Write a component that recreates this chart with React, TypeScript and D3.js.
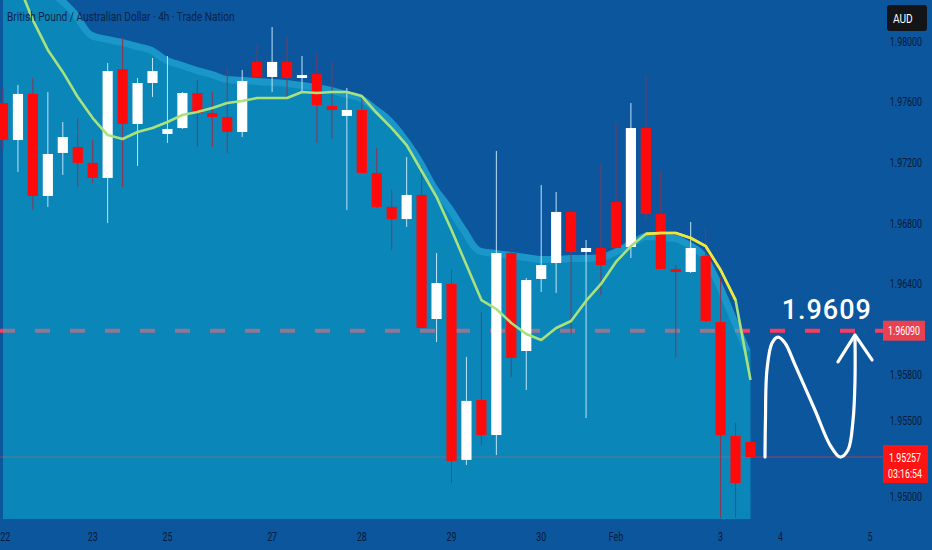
import * as d3 from 'd3'
import { useEffect, useRef } from "react";

// GBP/AUD 4h candles
const opens = [1.97591, 1.97347, 1.97651, 1.96978, 1.97262, 1.97301, 1.97196, 1.97097, 1.97815, 1.97453,
  1.97723, 1.97387, 1.97426, 1.97657, 1.97525, 1.97499, 1.97400, 1.97862, 1.97763, 1.97862,
  1.97756, 1.97782, 1.97571, 1.97506, 1.97545, 1.97130, 1.96906, 1.96826, 1.96985, 1.96167,
  1.96398, 1.95238, 1.95633, 1.95402, 1.96602, 1.95956, 1.96431, 1.96536, 1.96873, 1.96609,
  1.96635, 1.96939, 1.96642, 1.97426, 1.96859, 1.96497, 1.96477, 1.96583, 1.96147, 1.95396, 1.95356];
const highs = [1.97690, 1.97710, 1.97756, 1.97664, 1.97466, 1.97492, 1.97347, 1.97855, 1.98026, 1.97756,
  1.97888, 1.97901, 1.97664, 1.97743, 1.97664, 1.97829, 1.97809, 1.97974, 1.98092, 1.98026,
  1.97901, 1.97921, 1.97862, 1.97690, 1.97644, 1.97295, 1.97018, 1.97235, 1.97169, 1.96602,
  1.96490, 1.95917, 1.96213, 1.97275, 1.96642, 1.96437, 1.97051, 1.97004, 1.96886, 1.96688,
  1.97196, 1.97459, 1.97591, 1.97776, 1.97136, 1.96523, 1.96807, 1.96774, 1.96444, 1.95481, 1.95356];
const lows = [1.97281, 1.97136, 1.96886, 1.96906, 1.97117, 1.97037, 1.97064, 1.96800, 1.97037, 1.97176,
  1.97631, 1.97328, 1.97420, 1.97301, 1.97301, 1.97262, 1.97367, 1.97763, 1.97664, 1.97624,
  1.97664, 1.97328, 1.97354, 1.96886, 1.97130, 1.96899, 1.96622, 1.96774, 1.96108, 1.96015,
  1.95086, 1.95205, 1.95336, 1.95270, 1.95785, 1.95699, 1.96345, 1.96339, 1.96075, 1.95514,
  1.96325, 1.96635, 1.96569, 1.96820, 1.96497, 1.95917, 1.96470, 1.96147, 1.94855, 1.94855, 1.95257];
const closes = [1.97347, 1.97651, 1.96978, 1.97255, 1.97367, 1.97196, 1.97097, 1.97802, 1.97453, 1.97723,
  1.97802, 1.97420, 1.97657, 1.97525, 1.97499, 1.97400, 1.97736, 1.97763, 1.97862, 1.97756,
  1.97776, 1.97578, 1.97545, 1.97545, 1.97130, 1.96906, 1.96826, 1.96985, 1.96108, 1.96404,
  1.95231, 1.95627, 1.95402, 1.96602, 1.95910, 1.96424, 1.96523, 1.96873, 1.96609, 1.96635,
  1.96523, 1.96635, 1.97426, 1.96859, 1.96497, 1.96477, 1.96635, 1.96154, 1.95402, 1.95086, 1.95257];

// moving average (green / yellow line)
const maValues = [1.98620, 1.98382, 1.98138, 1.97941, 1.97796, 1.97631, 1.97492, 1.97380, 1.97354, 1.97400,
  1.97426, 1.97466, 1.97512, 1.97532, 1.97558, 1.97591, 1.97604, 1.97624, 1.97624, 1.97624,
  1.97664, 1.97657, 1.97664, 1.97664, 1.97637, 1.97525, 1.97426, 1.97314, 1.97143, 1.96971,
  1.96754, 1.96523, 1.96292, 1.96233, 1.96141, 1.96068, 1.96029, 1.96108, 1.96154, 1.96286,
  1.96398, 1.96543, 1.96648, 1.96728, 1.96734, 1.96734, 1.96701, 1.96648, 1.96490, 1.96292, 1.95765];
const maYellowFrom = 43;
const maYellowTo = 49;

// upper edge of the shaded band
const bandTop = [1.98666, 1.98534, 1.98435, 1.98349, 1.98290, 1.98191, 1.98059, 1.98033, 1.98013, 1.97987,
  1.97960, 1.97895, 1.97862, 1.97829, 1.97802, 1.97769, 1.97763, 1.97756, 1.97749, 1.97743,
  1.97730, 1.97717, 1.97697, 1.97670, 1.97644, 1.97571, 1.97492, 1.97374, 1.97229, 1.97051,
  1.96919, 1.96767, 1.96635, 1.96622, 1.96609, 1.96596, 1.96582, 1.96582, 1.96589, 1.96589,
  1.96596, 1.96635, 1.96688, 1.96734, 1.96728, 1.96721, 1.96675, 1.96602, 1.96424, 1.96194, 1.95963];

const xTickIdx = [0.15, 6, 11, 18, 24, 30, 36, 41, 48, 52, 58];
const xTickLabels = ['22', '23', '25', '27', '28', '29', '30', 'Feb', '3', '4', '5'];
const yTickValues = [1.98, 1.976, 1.972, 1.968, 1.964, 1.958, 1.955, 1.95];
const yTickLabels = ['1.98000', '1.97600', '1.97200', '1.96800', '1.96400', '1.95800', '1.95500', '1.95000'];

const title = 'British Pound / Australian Dollar · 4h · Trade Nation';
const currency = 'AUD';
const targetPrice = 1.9609;
const targetText = '1.9609';
const targetLabel = '1.96090';
const lastPrice = 1.95257;
const lastLabel = '1.95257';
const countdown = '03:16:54';

// hand-drawn forecast squiggle, in (candle index, price)
const arrowPath = [[50.97, 1.95257], [51.0, 1.95501], [51.1, 1.95831], [51.44, 1.96009], [51.84, 1.96048],
  [52.31, 1.96009], [52.98, 1.95864], [54.31, 1.95567], [55.32, 1.95336], [55.99, 1.95257],
  [56.52, 1.95303], [56.86, 1.95501], [56.99, 1.95765], [56.99, 1.96048]];
const arrowHead = [[55.85, 1.95884], [56.99, 1.96062], [58.13, 1.95897]];

const W = 932;
const H = 550;
const plotBottom = 519;
const axisInk = '#081a36';
const squeeze = 0.68; // TradingView's axis font is a narrow one

// condensed text: a plain Roboto label squeezed horizontally
const narrowText = (parent, str, px, py, opts: any = {}) => {
  const g = parent.append('g')
    .attr('transform', `translate(${px},${py}) scale(${opts.scale ?? squeeze},1)`);
  g.append('text')
    .attr('text-anchor', opts.anchor ?? 'start')
    .attr('dy', opts.dy ?? '0.35em')
    .attr('fill', opts.fill ?? axisInk)
    .attr('font-family', 'Roboto, sans-serif')
    .attr('font-size', opts.size ?? 13)
    .text(str);
  return g;
};

const App = () => {
  const svgRef = useRef(null);

  useEffect(() => {
    const svg = d3.select(svgRef.current);
    svg.selectAll('*').remove();

    const x = d3.scaleLinear().domain([0, 50]).range([3, 750.5]);
    const y = d3.scaleLinear().domain([1.95, 1.98]).range([496, 41]);
    const step = x(1) - x(0);
    const bodyW = step * 0.68;
    const idx = d3.range(opens.length);

    svg.append('rect').attr('width', W).attr('height', H).attr('fill', '#0b569d');

    const defs = svg.append('defs');
    defs.append('clipPath').attr('id', 'plotClip')
      .append('rect').attr('x', 0).attr('y', 0).attr('width', W).attr('height', plotBottom);

    const area = d3.area<number>()
      .x(i => x(i))
      .y0(plotBottom)
      .y1(i => y(bandTop[i]))
      .curve(d3.curveMonotoneX);
    defs.append('clipPath').attr('id', 'bandClip')
      .append('path').attr('d', area(idx));

    const plot = svg.append('g').attr('clip-path', 'url(#plotClip)');

    // level lines under the band
    plot.append('line')
      .attr('x1', 0).attr('x2', 883)
      .attr('y1', y(targetPrice)).attr('y2', y(targetPrice))
      .attr('stroke', '#ff3b5c').attr('stroke-width', 4)
      .attr('stroke-dasharray', '15 20');
    plot.append('line')
      .attr('x1', 0).attr('x2', 883)
      .attr('y1', y(lastPrice)).attr('y2', y(lastPrice))
      .attr('stroke', '#9a4660').attr('stroke-width', 1);

    // shaded band
    plot.append('path').attr('d', area(idx)).attr('fill', 'rgba(10,194,218,0.45)');
    const bandLine = d3.line<number>().x(i => x(i)).y(i => y(bandTop[i])).curve(d3.curveMonotoneX);
    plot.append('path')
      .attr('d', bandLine(idx))
      .attr('clip-path', 'url(#bandClip)')
      .attr('fill', 'none')
      .attr('stroke', '#3cb9e8').attr('stroke-width', 14).attr('stroke-opacity', 0.32);

    // candles
    plot.selectAll('line.wick')
      .data(idx)
      .enter()
      .append('line')
      .attr('class', 'wick')
      .attr('x1', i => x(i)).attr('x2', i => x(i))
      .attr('y1', i => y(highs[i])).attr('y2', i => y(lows[i]))
      .attr('stroke', i => closes[i] >= opens[i] ? '#bfe3f7' : '#8c3350')
      .attr('stroke-width', 1);

    plot.selectAll('rect.body')
      .data(idx)
      .enter()
      .append('rect')
      .attr('class', 'body')
      .attr('x', i => x(i) - bodyW / 2)
      .attr('y', i => y(Math.max(opens[i], closes[i])))
      .attr('width', bodyW)
      .attr('height', i => Math.max(2.5, Math.abs(y(opens[i]) - y(closes[i]))))
      .attr('fill', i => closes[i] >= opens[i] ? '#ffffff' : '#ff0a0a');

    // moving average
    const maLine = d3.line<number>().x(i => x(i)).y(i => y(maValues[i]));
    plot.append('path')
      .attr('d', maLine(idx))
      .attr('fill', 'none')
      .attr('stroke', '#a8e27c').attr('stroke-width', 2.6).attr('stroke-linejoin', 'round');
    plot.append('path')
      .attr('d', maLine(d3.range(maYellowFrom, maYellowTo + 1)))
      .attr('fill', 'none')
      .attr('stroke', '#f2e63a').attr('stroke-width', 2.6).attr('stroke-linejoin', 'round');

    // forecast squiggle
    const arrowLine = d3.line<number[]>()
      .x(d => x(d[0])).y(d => y(d[1]))
      .curve(d3.curveCatmullRom.alpha(0.5));
    svg.append('path')
      .attr('d', arrowLine(arrowPath))
      .attr('fill', 'none').attr('stroke', '#ffffff')
      .attr('stroke-width', 3.2).attr('stroke-linecap', 'round');
    svg.append('path')
      .attr('d', d3.line<number[]>().x(d => x(d[0])).y(d => y(d[1]))(arrowHead))
      .attr('fill', 'none').attr('stroke', '#ffffff')
      .attr('stroke-width', 3.2).attr('stroke-linecap', 'round').attr('stroke-linejoin', 'round');

    svg.append('text')
      .attr('x', x(55.1)).attr('y', y(targetPrice) - 12)
      .attr('text-anchor', 'middle')
      .attr('fill', '#ffffff')
      .attr('font-family', 'Roboto, sans-serif')
      .attr('font-weight', 500)
      .attr('font-size', 27)
      .attr('letter-spacing', 1)
      .text(targetText);

    // title
    narrowText(svg, title, 7, 17, { fill: '#0a2448', size: 12.5, scale: 0.81 });

    // price axis
    yTickValues.forEach((v, i) => narrowText(svg, yTickLabels[i], 922, y(v), { anchor: 'end' }));

    // time axis
    xTickIdx.forEach((v, i) => narrowText(svg, xTickLabels[i], x(v), 536, { anchor: 'middle' }));

    // currency badge
    svg.append('rect')
      .attr('x', 887).attr('y', 5).attr('width', 40).attr('height', 26).attr('rx', 3)
      .attr('fill', '#121418');
    narrowText(svg, currency, 893, 18, { fill: '#ffffff', scale: 0.78 });

    // target price tag
    svg.append('rect')
      .attr('x', 883).attr('y', y(targetPrice) - 10).attr('width', 42).attr('height', 20)
      .attr('fill', '#e8414f');
    narrowText(svg, targetLabel, 904, y(targetPrice), { anchor: 'middle', fill: '#ffffff' });

    // last price tag
    svg.append('rect')
      .attr('x', 883).attr('y', y(lastPrice) - 12).attr('width', 45).attr('height', 38)
      .attr('fill', '#ff1414');
    narrowText(svg, lastLabel, 905, y(lastPrice), { anchor: 'middle', fill: '#ffffff' });
    narrowText(svg, countdown, 905, y(lastPrice) + 16, { anchor: 'middle', fill: '#ffffff' });
  }, []);

  return (
    <svg ref={svgRef} width={W} height={H}
      style={{ position: 'fixed', left: 0, top: 0, display: 'block' }}>
    </svg>
  );
};

export default App;
